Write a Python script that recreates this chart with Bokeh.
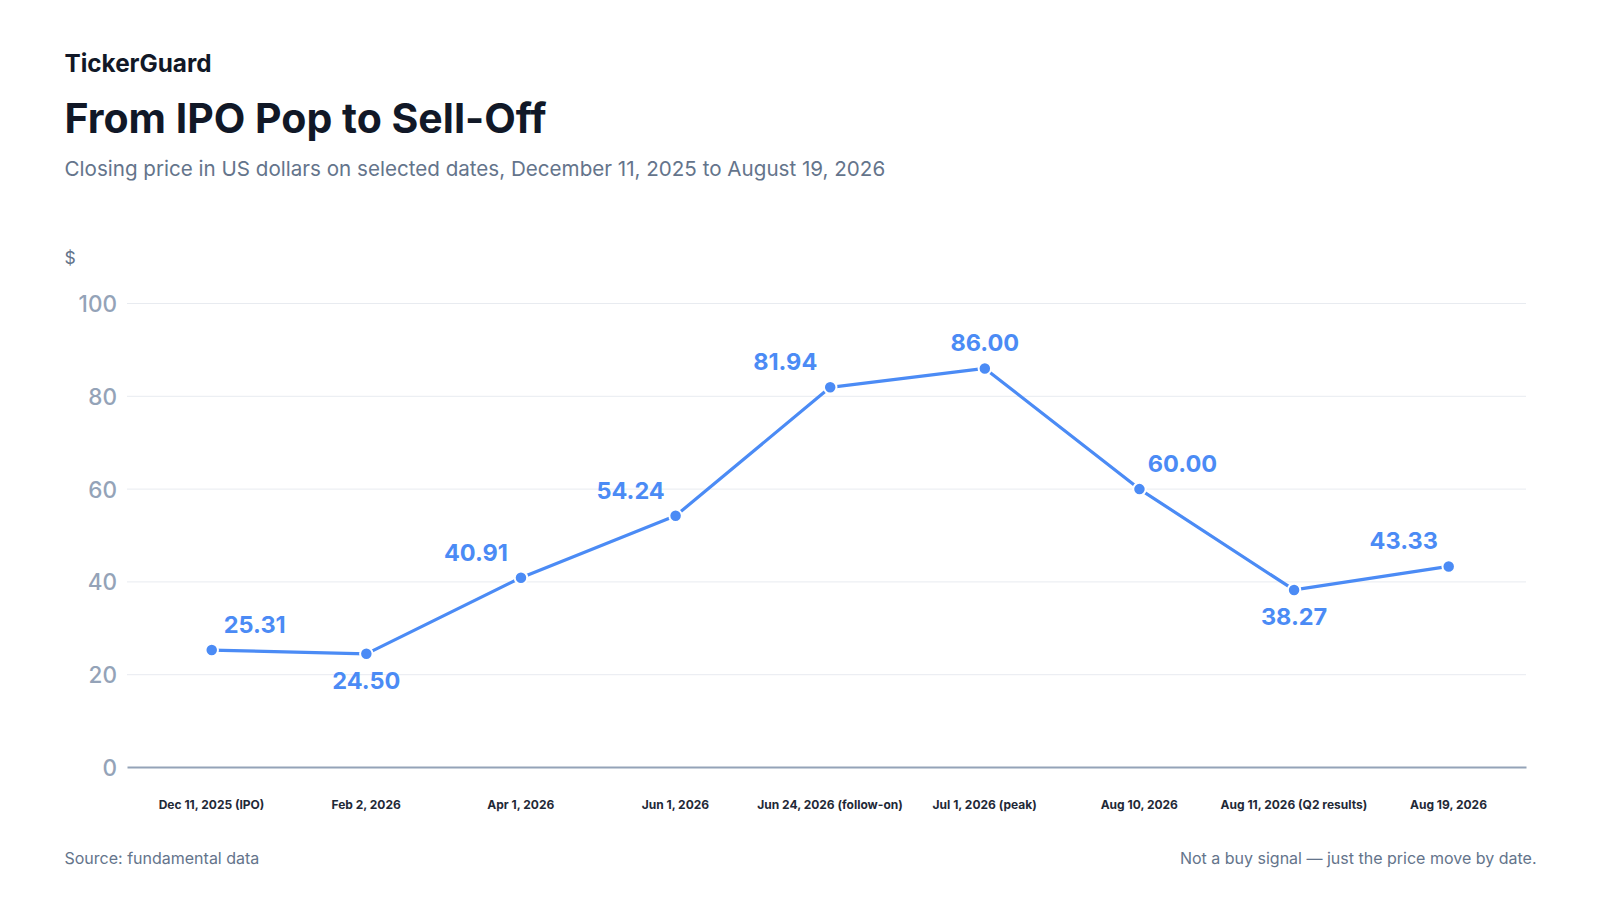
from bokeh.plotting import figure
from bokeh.models import Range1d, FixedTicker, Label, ColumnDataSource
from bokeh.core.properties import value
from bokeh.embed import file_html
from bokeh.resources import INLINE

# ---- data ----
categories = [
    "Dec 11, 2025 (IPO)", "Feb 2, 2026", "Apr 1, 2026", "Jun 1, 2026",
    "Jun 24, 2026 (follow-on)", "Jul 1, 2026 (peak)", "Aug 10, 2026",
    "Aug 11, 2026 (Q2 results)", "Aug 19, 2026",
]
prices = [25.31, 24.50, 40.91, 54.24, 81.94, 86.00, 60.00, 38.27, 43.33]
y_ticks = [0, 20, 40, 60, 80, 100]
label_placement = ["above-right", "below", "above-left", "above-left", "above-left",
                   "above", "above-right", "below", "above-left"]

brand = "TickerGuard"
title = "From IPO Pop to Sell-Off"
subtitle = "Closing price in US dollars on selected dates, December 11, 2025 to August 19, 2026"
unit = "$"
source_note = "Source: fundamental data"
disclaimer = "Not a buy signal \u2014 just the price move by date."

# ---- style / layout ----
FONT = "Inter"
TICK_FONT = "Inter Medium"
BLUE = "#4b8bf5"
DARK = "#111827"
MUTED = "#64748b"
AXIS_GREY = "#94a3b8"
GRID = "#e8ebf0"

W, H = 1584, 880
# plot area inside the canvas (px): left, right, top (y=100), bottom (y=0)
PA_L, PA_R, PA_T, PA_B = 126.5, 1525.5, 303.0, 767.0
n = len(categories)
x_lo, x_hi = -0.548, n - 0.5
px_per_x = (PA_R - PA_L) / (x_hi - x_lo)
px_per_y = (PA_B - PA_T) / 100.0
x_start = x_lo - PA_L / px_per_x
x_end = x_hi + (W - PA_R) / px_per_x
y_end = 100 + PA_T / px_per_y
y_start = -(H - PA_B) / px_per_y

offsets = {
    "above-right": (43, -25.5),
    "above-left": (-45, -25.5),
    "above": (0, -25.5),
    "below": (0, 26.5),
}

xs = list(range(n))
src = ColumnDataSource(dict(
    x=xs,
    y=prices,
    label=[f"{v:.2f}" for v in prices],
    dx=[offsets[k][0] for k in label_placement],
    dy=[offsets[k][1] for k in label_placement],
))

p = figure(
    width=W, height=H,
    x_range=Range1d(x_start, x_end),
    y_range=Range1d(y_start, y_end),
    output_backend="svg", toolbar_location=None,
    min_border=0,
)
if p.title is not None:
    p.title.visible = False
p.outline_line_color = None
p.background_fill_color = "white"
p.border_fill_color = "white"
p.grid.visible = False

# x axis (category labels) drawn along y = 0
p.xaxis.fixed_location = 0
p.xaxis.bounds = (x_lo, x_hi)
p.xaxis.ticker = FixedTicker(ticks=xs)
p.xaxis.major_label_overrides = {i: c for i, c in enumerate(categories)}
p.xaxis.major_label_text_font = FONT
p.xaxis.major_label_text_font_size = "12px"
p.xaxis.major_label_text_font_style = "bold"
p.xaxis.major_label_text_color = "#1f2937"
p.xaxis.major_label_standoff = 23
p.xaxis.major_tick_line_color = None
p.xaxis.minor_tick_line_color = None
p.xaxis.axis_line_color = AXIS_GREY
p.xaxis.axis_line_width = 2

# y axis drawn along the left edge of the plot area
p.yaxis.fixed_location = x_lo
p.yaxis.bounds = (0, 100)
p.yaxis.ticker = FixedTicker(ticks=y_ticks)
p.yaxis.major_label_text_font = TICK_FONT
p.yaxis.major_label_text_font_size = "22.5px"
p.yaxis.major_label_text_color = AXIS_GREY
p.yaxis.major_label_standoff = 4
p.yaxis.major_tick_line_color = None
p.yaxis.minor_tick_line_color = None
p.yaxis.axis_line_color = None

# horizontal grid lines at the y ticks, across the plot area
grid_y = [t for t in y_ticks if t != 0]
p.segment(x0=[x_lo] * len(grid_y), x1=[x_hi] * len(grid_y), y0=grid_y, y1=grid_y,
          line_color=GRID, line_width=1, level="underlay")

# series
p.line("x", "y", source=src, line_color=BLUE, line_width=3.2)
p.scatter("x", "y", source=src, size=12.5, fill_color=BLUE, line_color="white", line_width=2)
p.text("x", "y", text="label", source=src, x_offset="dx", y_offset="dy",
       text_align="center", text_baseline="middle",
       text_font=value(FONT), text_font_style="bold", text_font_size="23.5px",
       text_color=BLUE)


def add_text(cx, cy, text, size, color, bold=False, align="left"):
    p.add_layout(Label(x=cx, y=H - cy, x_units="screen", y_units="screen",
                       text=text, text_font=FONT, text_font_size=size,
                       text_color=color, text_font_style="bold" if bold else "normal",
                       text_align=align, text_baseline="middle"))


add_text(64, 62, brand, "24.3px", DARK, bold=True)
add_text(64, 117.5, title, "41px", DARK, bold=True)
add_text(64, 168, subtitle, "20.6px", MUTED)
add_text(64, 257, unit, "17.5px", MUTED)
add_text(64, 857, source_note, "16px", MUTED)
add_text(1536, 857, disclaimer, "16px", MUTED, align="right")

open("out.html", "w").write(file_html(p, INLINE))
